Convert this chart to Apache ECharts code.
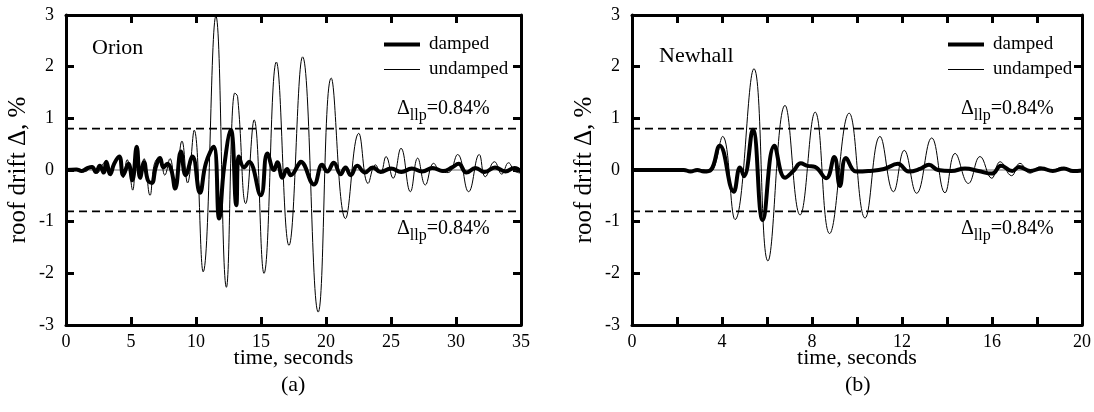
<!DOCTYPE html>
<html>
<head>
<meta charset="utf-8">
<script src="https://cdn.jsdelivr.net/npm/echarts@6/dist/echarts.min.js"></script>
<style>
  html, body { margin: 0; padding: 0; background: #fff; }
  #chart { width: 1094px; height: 412px; }
</style>
</head>
<body>
<div id="chart"></div>
<script>
const FONT = 'Liberation Serif'

// Orion record (a)
const orionUndT = [0, 1.0, 1.5, 2.0, 2.4, 2.8, 3.1, 3.4, 3.7, 4.1, 4.4, 4.7, 5.13, 5.4, 5.7, 6.0, 6.46, 6.8, 7.2, 7.6, 8.0, 8.4, 8.92, 9.35, 9.86, 10.55, 11.53, 12.34, 12.98, 13.2, 13.83, 14.47, 15.23, 16.18, 17.15, 18.2, 19.4, 20.4, 21.5, 22.52, 23.24, 23.8, 24.2, 24.62, 25.16, 25.77, 26.49, 27.05, 27.64, 28.28, 28.8, 29.4, 30.12, 30.97, 31.79, 32.25, 32.96, 33.52, 34.04, 34.5, 35]
const orionUndV = [0, 0.02, -0.03, 0.08, -0.06, 0.1, 0.18, -0.1, 0.15, 0.28, -0.15, 0.2, -0.39, 0.45, -0.12, 0.22, -0.49, 0.12, 0.25, -0.1, 0.22, -0.3, 0.56, -0.25, 0.77, -1.97, 2.98, -2.27, 1.49, 1.42, -0.65, 0.97, -2.0, 2.09, -1.46, 2.19, -2.75, 1.78, -0.94, 0.71, -0.26, 0.1, -0.05, 0.26, -0.16, 0.42, -0.42, 0.23, -0.29, 0.13, -0.03, -0.05, 0.3, -0.42, 0.3, -0.13, 0.16, -0.08, 0.14, -0.02, -0.06]
const orionDmpT = [0, 0.8, 1.2, 1.6, 2.0, 2.3, 2.6, 2.9, 3.1, 3.4, 3.7, 4.1, 4.4, 4.8, 5.1, 5.44, 5.7, 6.0, 6.3, 6.6, 6.9, 7.23, 7.5, 7.8, 8.1, 8.4, 8.84, 9.2, 9.73, 10.3, 10.76, 11.35, 11.78, 12.16, 12.68, 13.1, 13.3, 13.7, 14.08, 14.98, 15.49, 16.0, 16.26, 16.65, 17.0, 17.28, 17.92, 18.05, 19.07, 19.7, 20.1, 20.6, 21.12, 21.5, 21.9, 22.4, 23.0, 23.6, 24.2, 25.0, 25.8, 26.6, 27.4, 28.2, 29.0, 29.7, 30.2, 30.8, 31.5, 32.2, 33.0, 33.8, 34.5, 35]
const orionDmpV = [0, 0.01, -0.02, 0.03, 0.06, -0.04, 0.08, -0.05, 0.16, -0.08, 0.12, 0.26, -0.1, 0.12, -0.2, 0.45, -0.15, 0.15, -0.2, -0.25, 0.05, 0.23, 0.05, 0.12, 0.0, -0.36, 0.36, -0.1, 0.26, -0.44, 0.13, 0.45, -0.94, 0.05, 0.78, -0.68, 0.26, 0.05, 0.16, -0.49, 0.32, 0.0, 0.15, -0.15, 0.02, -0.1, 0.12, 0.16, -0.28, 0.1, -0.03, 0.14, -0.08, 0.05, -0.1, 0.08, -0.05, 0.05, -0.04, 0.03, -0.04, 0.03, -0.03, 0.04, -0.02, 0.05, 0.12, -0.05, 0.04, -0.04, 0.05, -0.03, 0.04, -0.03]

// Newhall record (b)
const newhallUndT = [0, 2.0, 2.5, 3.0, 3.5, 3.6, 4.03, 4.58, 5.42, 6.04, 6.8, 7.47, 8.14, 8.78, 9.65, 10.36, 11.02, 11.62, 12.1, 12.65, 13.32, 13.91, 14.36, 14.95, 15.47, 15.99, 16.36, 16.87, 17.24, 17.69, 18.13, 18.6, 19.1, 19.6, 20]
const newhallUndV = [0, 0, -0.02, 0.01, -0.01, 0.0, 0.65, -0.96, 1.96, -1.76, 1.25, -0.87, 1.12, -1.23, 1.1, -0.93, 0.65, -0.42, 0.38, -0.45, 0.62, -0.44, 0.32, -0.26, 0.26, -0.16, 0.16, -0.11, 0.13, -0.06, 0.06, -0.03, 0.05, -0.02, 0.0]
const newhallDmpT = [0, 2.3, 2.6, 2.9, 3.2, 3.5, 3.9, 4.52, 4.8, 4.98, 5.37, 5.81, 6.33, 6.8, 7.17, 7.5, 7.8, 8.13, 8.63, 8.99, 9.24, 9.51, 9.96, 10.5, 11.2, 11.82, 12.3, 12.8, 13.2, 13.6, 14.2, 14.8, 15.4, 16.0, 16.4, 16.9, 17.2, 17.7, 18.2, 18.7, 19.2, 19.6, 20]
const newhallDmpV = [0, 0.0, -0.03, 0.0, -0.03, 0.0, 0.47, -0.42, 0.05, -0.12, 0.78, -0.97, 0.47, -0.15, -0.02, 0.13, 0.08, 0.06, -0.16, 0.25, -0.31, 0.23, -0.03, -0.02, 0.02, 0.12, -0.03, 0.02, 0.1, 0.0, -0.02, 0.03, -0.02, -0.07, 0.08, -0.02, 0.06, -0.02, 0.03, -0.02, 0.03, -0.02, -0.01]

const llpLevels = [0.8, -0.8]
const yTicks = [-3, 3, 1]
const xRanges = [[0, 35, 5], [0, 20, 2]]

const zip = (t, v) => t.map((x, i) => [x, v[i]])

const frameAxis = (extra) => Object.assign({
  axisLine: {show: true, onZero: false, lineStyle: {color: '#000', width: 3}},
  axisTick: {show: true, inside: true, length: 8, lineStyle: {color: '#000', width: 3}},
  splitLine: {show: false}
}, extra)

const labelStyle = {color: '#000', fontFamily: FONT, fontSize: 18}
const nameStyle = {color: '#000', fontFamily: FONT, fontSize: 22}

let xAxis = []
let yAxis = []
let series = []
let legend = []

xRanges.forEach((r, g) => {
  xAxis.push(frameAxis({
    type: 'value', gridIndex: g, min: r[0], max: r[1], interval: r[2], position: 'bottom',
    name: 'time, seconds', nameLocation: 'middle', nameGap: 22, nameMoveOverlap: false,
    nameTextStyle: nameStyle,
    axisLabel: Object.assign({margin: 8, formatter: v => (g === 1 && v % 4 !== 0) ? '' : v}, labelStyle)
  }))
  xAxis.push(frameAxis({
    type: 'value', gridIndex: g, min: r[0], max: r[1], interval: r[2], position: 'top',
    axisLabel: {show: false}
  }))
  yAxis.push(frameAxis({
    type: 'value', gridIndex: g, min: yTicks[0], max: yTicks[1], interval: yTicks[2], position: 'left',
    name: 'roof drift \u0394, %', nameLocation: 'middle', nameGap: 35, nameMoveOverlap: false,
    nameTextStyle: Object.assign({}, nameStyle, {fontSize: 25}),
    axisLabel: Object.assign({margin: 12}, labelStyle)
  }))
  yAxis.push(frameAxis({
    type: 'value', gridIndex: g, min: yTicks[0], max: yTicks[1], interval: yTicks[2], position: 'right',
    axisLabel: {show: false}
  }))

  const xi = g * 2, yi = g * 2
  // zero line
  series.push({
    type: 'line', xAxisIndex: xi, yAxisIndex: yi, silent: true, symbol: 'none',
    data: [[r[0], 0], [r[1], 0]], lineStyle: {color: '#444', width: 0.8}
  })
  // Δllp limits
  llpLevels.forEach(lv => {
    series.push({
      type: 'line', xAxisIndex: xi, yAxisIndex: yi, silent: true, symbol: 'none',
      data: [[r[0], lv], [r[1], lv]], lineStyle: {color: '#000', width: 1.6, type: [8, 5]}
    })
  })
  const und = g === 0 ? zip(orionUndT, orionUndV) : zip(newhallUndT, newhallUndV)
  const dmp = g === 0 ? zip(orionDmpT, orionDmpV) : zip(newhallDmpT, newhallDmpV)
  series.push({
    name: 'undamped', type: 'line', xAxisIndex: xi, yAxisIndex: yi, symbol: 'none',
    smooth: 0.45, data: und, lineStyle: {color: '#000', width: 1}, itemStyle: {color: '#000'}
  })
  series.push({
    name: 'damped', type: 'line', xAxisIndex: xi, yAxisIndex: yi, symbol: 'none',
    smooth: 0.45, data: dmp, lineStyle: {color: '#000', width: 4}, itemStyle: {color: '#000'}
  })
  legend.push({
    data: [
      {name: 'damped', itemStyle: {opacity: 0}, lineStyle: {width: 4, color: '#000'}},
      {name: 'undamped', itemStyle: {opacity: 0}, lineStyle: {width: 1, color: '#000'}}
    ],
    orient: 'vertical', left: g === 0 ? 377 : 941, top: 30,
    itemWidth: 36, itemHeight: 14, itemGap: 6, selectedMode: false,
    textStyle: {color: '#000', fontFamily: FONT, fontSize: 19, padding: [0, 0, 0, 4]}
  })
})

const llpText = (x, y) => ({
  type: 'text', left: x, top: y,
  style: {
    text: '{d|\u0394}{s|llp}{d|=0.84%}',
    rich: {
      d: {fontFamily: FONT, fontSize: 20, lineHeight: 22, verticalAlign: 'top', fill: '#000'},
      s: {fontFamily: FONT, fontSize: 16, lineHeight: 18, padding: [9, 0, 0, 0], verticalAlign: 'top', fill: '#000'}
    }
  }
})

let chart = echarts.init(document.getElementById('chart'))
chart.setOption({
  animation: false,
  grid: [
    {left: 66, top: 15, width: 455, height: 310},
    {left: 632, top: 15, width: 450, height: 310}
  ],
  xAxis: xAxis,
  yAxis: yAxis,
  legend: legend,
  series: series,
  graphic: [
    {type: 'text', left: 92, top: 37, style: {text: 'Orion', fontFamily: FONT, fontSize: 22, fill: '#000'}},
    {type: 'text', left: 659, top: 45, style: {text: 'Newhall', fontFamily: FONT, fontSize: 22, fill: '#000'}},
    {type: 'text', left: 281, top: 374, style: {text: '(a)', fontFamily: FONT, fontSize: 22, fill: '#000'}},
    {type: 'text', left: 845, top: 374, style: {text: '(b)', fontFamily: FONT, fontSize: 22, fill: '#000'}},
    llpText(397, 99), llpText(397, 219),
    llpText(961, 99), llpText(961, 219)
  ]
})
</script>
</body>
</html>
